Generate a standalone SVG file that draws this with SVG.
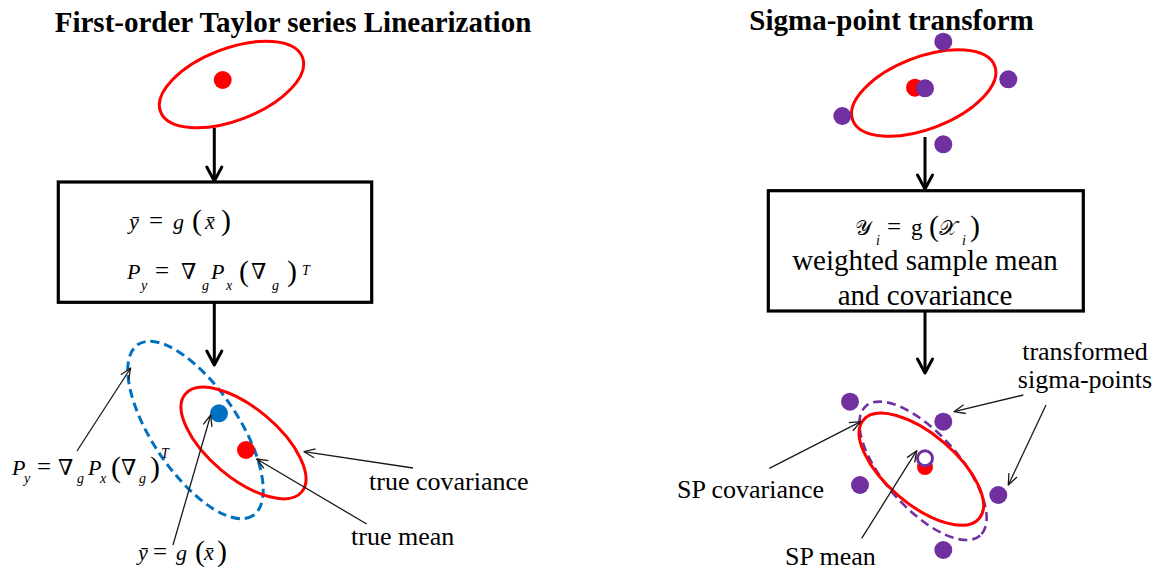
<svg xmlns="http://www.w3.org/2000/svg" width="1161" height="572" viewBox="0 0 1161 572">
  <style>
    .title { font-family: "Liberation Serif", "Times New Roman", serif; font-weight: bold; font-size: 29px; fill: #000; }
    .lbl { font-family: "Liberation Serif", "Times New Roman", serif; font-size: 26px; fill: #000; }
    .box-txt { font-family: "Liberation Serif", "Times New Roman", serif; font-size: 29px; fill: #000; }
    .eq { font-family: "Liberation Serif", "DejaVu Serif", serif; font-size: 22px; fill: #000; }
    .mi { font-style: italic; }
    .op { font-size: 25px; }
    .par { font-size: 30px; }
    .sub { font-style: italic; font-size: 14px; }
    .scr { font-family: "Liberation Serif", "DejaVu Serif", "DejaVu Sans", serif; font-size: 21px; }
    .box { fill: #fff; stroke: #000; stroke-width: 3.2; }
    .cov-red { fill: none; stroke: #ff0000; stroke-width: 3; }
    .cov-blue { fill: none; stroke: #0070c0; stroke-width: 3; stroke-dasharray: 9 5; }
    .cov-purple { fill: none; stroke: #7030a0; stroke-width: 2.6; stroke-dasharray: 9 5; }
    .pt-red { fill: #ff0000; }
    .pt-blue { fill: #0070c0; }
    .pt-purple { fill: #7030a0; }
    .flow { fill: none; stroke: #000; stroke-width: 3; marker-end: url(#headBold); }
    .pointer { fill: none; stroke: #1a1a1a; stroke-width: 1.3; marker-end: url(#headThin); }
  </style>
  <defs>
    <marker id="headBold" markerUnits="userSpaceOnUse" viewBox="-16 -9 18 18" refX="0" refY="0" markerWidth="18" markerHeight="18" orient="auto" overflow="visible">
      <path d="M-14,-7.5 L0,0 L-14,7.5" fill="none" stroke="#000" stroke-width="3" stroke-linejoin="round" stroke-linecap="round"/>
    </marker>
    <marker id="headThin" markerUnits="userSpaceOnUse" viewBox="-12 -6 14 12" refX="0" refY="0" markerWidth="14" markerHeight="12" orient="auto" overflow="visible">
      <path d="M-11,-4.5 L0,0 L-11,4.5" fill="none" stroke="#1a1a1a" stroke-width="1.3" stroke-linejoin="round"/>
    </marker>
  </defs>

  <rect width="1161" height="572" fill="#fff"/>

  <!-- Left column: first-order Taylor linearization -->
  <g id="title-taylor">
    <text class="title" x="293" y="31.5" text-anchor="middle">First-order Taylor series Linearization</text>
  </g>

  <g id="prior-taylor">
    <ellipse class="cov-red" cx="231.5" cy="84.5" rx="76" ry="36" transform="rotate(-21 231.5 84.5)"/>
    <circle class="pt-red" cx="222.7" cy="80" r="9"/>
  </g>

  <g id="box-taylor">
    <rect class="box" x="58.3" y="182" width="313.4" height="120.3"/>
    <text class="eq"><tspan class="mi" x="129" y="229">ȳ</tspan><tspan class="op" x="149" y="229">=</tspan><tspan class="mi" x="173" y="229">g</tspan><tspan class="par" x="192" y="230">(</tspan><tspan class="mi" x="205" y="229">x̄</tspan><tspan class="par" x="221" y="230">)</tspan></text>
    <text class="eq"><tspan class="mi" x="127" y="279">P</tspan><tspan class="sub" x="141" y="290">y</tspan><tspan class="op" x="155" y="279">=</tspan><tspan x="181" y="279">∇</tspan><tspan class="sub" x="202" y="290">g</tspan><tspan class="mi" x="211" y="279">P</tspan><tspan class="sub" x="226" y="290">x</tspan><tspan class="par" x="239" y="281">(</tspan><tspan x="251" y="279">∇</tspan><tspan class="sub" x="272" y="290">g</tspan><tspan class="par" x="287" y="281">)</tspan><tspan class="sub" x="302" y="275">T</tspan></text>
  </g>

  <g id="result-taylor">
    <ellipse class="cov-blue" cx="195.5" cy="430" rx="103" ry="43" transform="rotate(56 195.5 430)"/>
    <ellipse class="cov-red" cx="243.5" cy="443" rx="76" ry="35" transform="rotate(40 243.5 443)"/>
    <circle class="pt-blue" cx="219" cy="413.3" r="9"/>
    <circle class="pt-red" cx="246" cy="450" r="9"/>
  </g>

  <g id="label-lin-cov">
    <text class="eq"><tspan class="mi" x="12" y="475">P</tspan><tspan class="sub" x="24" y="483">y</tspan><tspan class="op" x="37" y="475">=</tspan><tspan x="58" y="475">∇</tspan><tspan class="sub" x="77" y="483">g</tspan><tspan class="mi" x="88" y="475">P</tspan><tspan class="sub" x="100" y="483">x</tspan><tspan class="par" x="111" y="477">(</tspan><tspan x="121" y="475">∇</tspan><tspan class="sub" x="139" y="483">g</tspan><tspan class="par" x="150" y="477">)</tspan><tspan class="sub" x="161" y="458">T</tspan></text>
  </g>

  <g id="label-lin-mean">
    <text class="eq"><tspan class="mi" x="138" y="560">ȳ</tspan><tspan class="op" x="153" y="560">=</tspan><tspan class="mi" x="176" y="560">g</tspan><tspan class="par" x="195" y="561">(</tspan><tspan class="mi" x="204" y="560">x̄</tspan><tspan class="par" x="217" y="561">)</tspan></text>
  </g>

  <g id="label-true-cov">
    <text class="lbl" x="369" y="490">true covariance</text>
  </g>
  <g id="label-true-mean">
    <text class="lbl" x="351" y="545">true mean</text>
  </g>

  <!-- Right column: sigma-point transform -->
  <g id="title-sigma">
    <text class="title" x="891.5" y="29.5" text-anchor="middle">Sigma-point transform</text>
  </g>

  <g id="prior-sigma">
    <ellipse class="cov-red" cx="923.7" cy="93" rx="76" ry="36" transform="rotate(-21 923.7 93)"/>
    <circle class="pt-red" cx="915" cy="87.7" r="9"/>
    <circle class="pt-purple" cx="925" cy="88.3" r="9"/>
    <circle class="pt-purple" cx="943.3" cy="41.7" r="9"/>
    <circle class="pt-purple" cx="1008.3" cy="79.3" r="9"/>
    <circle class="pt-purple" cx="842.3" cy="116" r="9"/>
    <circle class="pt-purple" cx="943.3" cy="144.3" r="9"/>
  </g>

  <g id="box-sigma">
    <rect class="box" x="768.3" y="190.7" width="315" height="120.3"/>
    <text class="eq"><tspan class="scr" x="855" y="235">𝒴</tspan><tspan class="sub" x="876" y="245">i</tspan><tspan class="op" x="887" y="235">=</tspan><tspan x="911" y="235" font-size="23">g</tspan><tspan class="par" x="929" y="236">(</tspan><tspan class="scr" x="939" y="235">𝒳</tspan><tspan class="sub" x="962" y="245">i</tspan><tspan class="par" x="970" y="236">)</tspan></text>
    <text class="box-txt" x="925" y="270" text-anchor="middle">weighted sample mean</text>
    <text class="box-txt" x="925" y="305" text-anchor="middle">and covariance</text>
  </g>

  <g id="result-sigma">
    <ellipse class="cov-purple" cx="923" cy="470.8" rx="86.3" ry="37.3" transform="rotate(48.5 923 470.8)"/>
    <ellipse class="cov-red" cx="921.3" cy="469.2" rx="76" ry="35" transform="rotate(40.4 921.3 469.2)"/>
    <circle class="pt-purple" cx="850" cy="401.7" r="9"/>
    <circle class="pt-purple" cx="943.3" cy="421.7" r="9"/>
    <circle class="pt-purple" cx="860" cy="485" r="9"/>
    <circle class="pt-purple" cx="998.3" cy="495" r="9"/>
    <circle class="pt-purple" cx="943.3" cy="550" r="9"/>
    <circle class="pt-red" cx="925" cy="467" r="8"/>
    <circle cx="925" cy="458.3" r="7.5" fill="#fff" stroke="#7030a0" stroke-width="3"/>
  </g>

  <g id="label-sp-points">
    <text class="lbl" x="1085" y="360" text-anchor="middle">transformed</text>
    <text class="lbl" x="1085" y="388" text-anchor="middle">sigma-points</text>
  </g>
  <g id="label-sp-cov">
    <text class="lbl" x="677" y="498">SP covariance</text>
  </g>
  <g id="label-sp-mean">
    <text class="lbl" x="785" y="565">SP mean</text>
  </g>

  <!-- Connectors -->
  <g id="connectors">
    <line class="flow" x1="214.3" y1="128" x2="214.3" y2="181"/>
    <line class="flow" x1="214.3" y1="302" x2="214.3" y2="365"/>
    <line class="flow" x1="925" y1="137" x2="925" y2="189"/>
    <line class="flow" x1="925" y1="311" x2="925" y2="373"/>

    <line class="pointer" x1="77" y1="451" x2="130.7" y2="368"/>
    <line class="pointer" x1="173" y1="545" x2="210.7" y2="415"/>
    <line class="pointer" x1="413" y1="468" x2="304" y2="451.7"/>
    <line class="pointer" x1="366.7" y1="524" x2="256.7" y2="459"/>

    <line class="pointer" x1="1023.3" y1="395" x2="954" y2="411.7"/>
    <line class="pointer" x1="1046" y1="405" x2="1008.3" y2="485"/>
    <line class="pointer" x1="769.3" y1="468.3" x2="860.7" y2="421.7"/>
    <line class="pointer" x1="861.7" y1="538.3" x2="916.7" y2="450.7"/>
  </g>
</svg>
